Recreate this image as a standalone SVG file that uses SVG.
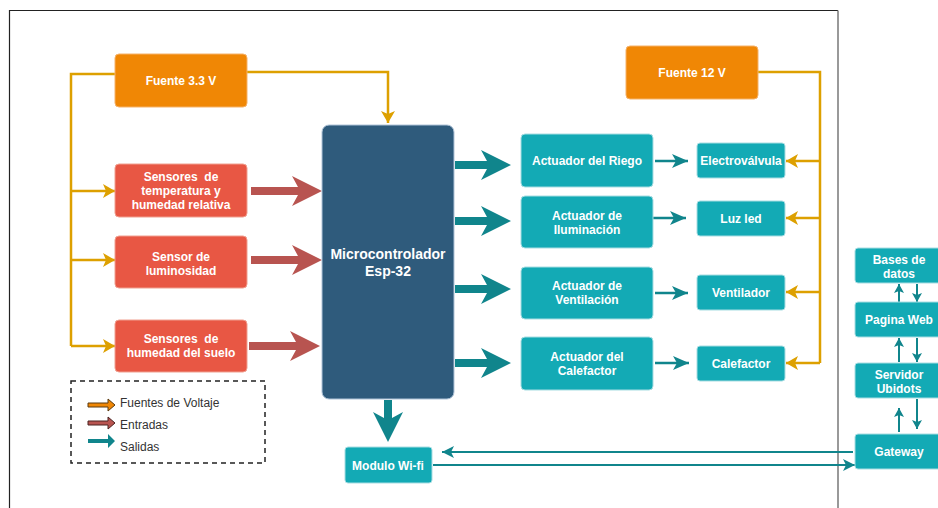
<svg xmlns="http://www.w3.org/2000/svg" width="938" height="508" viewBox="0 0 938 508">
<defs>
<style>
.t{font-family:"Liberation Sans",Arial,sans-serif;font-weight:bold;font-size:12px;fill:#fff;text-anchor:middle;dominant-baseline:central}
.lg{font-family:"Liberation Sans",Arial,sans-serif;font-size:12px;fill:#333;dominant-baseline:central}
.org{fill:#F08705;stroke:#F5B26B;stroke-width:1}
.red{fill:#E85744;stroke:#F0A090;stroke-width:1}
.tea{fill:#13AAB5;stroke:#A8DDE2;stroke-width:1}
.mcu{fill:#2F5B7C;stroke:#B0C4D8;stroke-width:1}
.yl{fill:none;stroke:#DDA000;stroke-width:2.5}
.tl{fill:none;stroke:#10858C;stroke-width:2.5}
.tl2{fill:none;stroke:#10858C;stroke-width:2}
.ra{fill:#B85450}
.ta{fill:#10858C}
</style>
<marker id="ay" markerUnits="userSpaceOnUse" markerWidth="12" markerHeight="14" refX="12" refY="7" orient="auto"><path d="M0,0 L12,7 L0,14 L3,7 z" fill="#DDA000"/></marker>
<marker id="at" markerUnits="userSpaceOnUse" markerWidth="16" markerHeight="14" refX="16" refY="7" orient="auto"><path d="M0,0 L16,7 L0,14 L4,7 z" fill="#10858C"/></marker>
<marker id="at2" markerUnits="userSpaceOnUse" markerWidth="12" markerHeight="12" refX="12" refY="6" orient="auto"><path d="M0,0 L12,6 L0,12 L3,6 z" fill="#10858C"/></marker>
<marker id="at3" markerUnits="userSpaceOnUse" markerWidth="9" markerHeight="10" refX="9" refY="5" orient="auto"><path d="M0,0 L9,5 L0,10 L2,5 z" fill="#10858C"/></marker>
</defs>
<rect x="0" y="0" width="938" height="508" fill="#fff"/>
<path d="M9.5,520 L9.5,10.5 L838,10.5" fill="none" stroke="#222" stroke-width="1.2"/>
<path d="M838,10.5 L838,520" fill="none" stroke="#777" stroke-width="1.5"/>

<g id="connectors">
<path class="yl" d="M115,74 L71,74 L71,346"/>
<path class="yl" d="M71,191 L115,191" marker-end="url(#ay)"/>
<path class="yl" d="M71,260 L115,260" marker-end="url(#ay)"/>
<path class="yl" d="M71,346 L115,346" marker-end="url(#ay)"/>
<path class="yl" d="M247,72 L388,72 L388,123" marker-end="url(#ay)"/>
<path class="yl" d="M758,72 L820,72 L820,363"/>
<path class="yl" d="M820,161 L786,161" marker-end="url(#ay)"/>
<path class="yl" d="M820,218 L786,218" marker-end="url(#ay)"/>
<path class="yl" d="M820,292 L786,292" marker-end="url(#ay)"/>
<path class="yl" d="M820,363 L786,363" marker-end="url(#ay)"/>
<polygon class="ra" points="251,187 298,187 292,176 322,191 292,206 298,195 251,195"/>
<polygon class="ra" points="251,256 298,256 292,245 322,260 292,275 298,264 251,264"/>
<polygon class="ra" points="249,342 296,342 290,331 320,346 290,361 296,350 249,350"/>
<polygon class="ta" points="455,161 487,161 481,150 511,165 481,180 487,169 455,169"/>
<polygon class="ta" points="455,217 487,217 481,206 511,221 481,236 487,225 455,225"/>
<polygon class="ta" points="455,285 487,285 481,274 511,289 481,304 487,293 455,293"/>
<polygon class="ta" points="455,359 487,359 481,348 511,363 481,378 487,367 455,367"/>
<polygon class="ta" points="384,400 384,418 373,412 388,442 403,412 392,418 392,400"/>
<path class="tl" d="M655,161 L688,161" marker-end="url(#at)"/>
<path class="tl" d="M653,218 L686,218" marker-end="url(#at)"/>
<path class="tl" d="M655,293 L688,293" marker-end="url(#at)"/>
<path class="tl" d="M655,363 L689,363" marker-end="url(#at)"/>
<path class="tl2" d="M853,452 L442,452" marker-end="url(#at2)"/>
<path class="tl2" d="M433,465 L855,465" marker-end="url(#at2)"/>
<path class="tl2" d="M899,302 L899,284" marker-end="url(#at3)"/>
<path class="tl2" d="M917,284 L917,302" marker-end="url(#at3)"/>
<path class="tl2" d="M899,362 L899,338" marker-end="url(#at3)"/>
<path class="tl2" d="M917,338 L917,362" marker-end="url(#at3)"/>
<path class="tl2" d="M899,432 L899,408" marker-end="url(#at3)"/>
<path class="tl2" d="M917,399 L917,429" marker-end="url(#at3)"/>
</g>

<g id="fuente33"><rect class="org" x="115" y="54" width="132" height="53" rx="4"/><text class="t" x="181" y="81">Fuente 3.3 V</text></g>
<g id="fuente12"><rect class="org" x="626" y="46" width="132" height="53" rx="4"/><text class="t" x="692" y="73">Fuente 12 V</text></g>
<g id="sensTemp"><rect class="red" x="115" y="164" width="132" height="53" rx="4"/><text class="t" x="181" y="177" xml:space="preserve">Sensores  de</text><text class="t" x="181" y="191">temperatura y</text><text class="t" x="181" y="205">humedad relativa</text></g>
<g id="sensLum"><rect class="red" x="115" y="236" width="132" height="52" rx="4"/><text class="t" x="181" y="257">Sensor de</text><text class="t" x="181" y="271">luminosidad</text></g>
<g id="sensSuelo"><rect class="red" x="115" y="320" width="132" height="52" rx="4"/><text class="t" x="181" y="339" xml:space="preserve">Sensores  de</text><text class="t" x="181" y="353">humedad del suelo</text></g>
<g id="mcu"><rect class="mcu" x="322" y="125" width="132" height="274" rx="7"/><text class="t" x="388" y="254" style="font-size:14px">Microcontrolador</text><text class="t" x="388" y="271" style="font-size:14px">Esp-32</text></g>
<g id="actRiego"><rect class="tea" x="521" y="134" width="132" height="53" rx="4"/><text class="t" x="587" y="161">Actuador del Riego</text></g>
<g id="actIlum"><rect class="tea" x="521" y="196" width="132" height="52" rx="4"/><text class="t" x="587" y="216">Actuador de</text><text class="t" x="587" y="230">Iluminación</text></g>
<g id="actVent"><rect class="tea" x="521" y="267" width="132" height="52" rx="4"/><text class="t" x="587" y="286">Actuador de</text><text class="t" x="587" y="300">Ventilación</text></g>
<g id="actCal"><rect class="tea" x="521" y="337" width="132" height="53" rx="4"/><text class="t" x="587" y="357">Actuador del</text><text class="t" x="587" y="371">Calefactor</text></g>
<g id="electro"><rect class="tea" x="697" y="143" width="88" height="35" rx="3"/><text class="t" x="741" y="161">Electroválvula</text></g>
<g id="luzled"><rect class="tea" x="697" y="201" width="88" height="35" rx="3"/><text class="t" x="741" y="219">Luz led</text></g>
<g id="ventilador"><rect class="tea" x="697" y="275" width="88" height="35" rx="3"/><text class="t" x="741" y="293">Ventilador</text></g>
<g id="calefactor"><rect class="tea" x="697" y="346" width="88" height="35" rx="3"/><text class="t" x="741" y="364">Calefactor</text></g>
<g id="wifi"><rect class="tea" x="345" y="447" width="87" height="36" rx="3"/><text class="t" x="388" y="466">Modulo Wi-fi</text></g>
<g id="bases"><rect class="tea" x="855" y="248" width="88" height="35" rx="3"/><text class="t" x="899" y="260">Bases de</text><text class="t" x="899" y="274">datos</text></g>
<g id="pagina"><rect class="tea" x="855" y="302" width="88" height="35" rx="3"/><text class="t" x="899" y="320">Pagina Web</text></g>
<g id="servidor"><rect class="tea" x="855" y="363" width="88" height="35" rx="3"/><text class="t" x="899" y="375">Servidor</text><text class="t" x="899" y="389">Ubidots</text></g>
<g id="gateway"><rect class="tea" x="855" y="434" width="88" height="35" rx="3"/><text class="t" x="899" y="452">Gateway</text></g>

<g id="legend">
<rect x="71" y="381" width="194" height="82" fill="none" stroke="#222" stroke-width="1.5" stroke-dasharray="5,4"/>
<polygon points="88,403 108,403 108,399 115,405 108,411 108,407 88,407" fill="#F08705" stroke="#5a3a10" stroke-width="1"/>
<polygon points="88,421 108,421 108,417 115,423 108,429 108,425 88,425" fill="#B85450" stroke="#4a2220" stroke-width="1"/>
<polygon points="88,439 108,439 108,434 115,441 108,448 108,443 88,443" fill="#10858C"/>
<text class="lg" x="120" y="403">Fuentes de Voltaje</text>
<text class="lg" x="120" y="425">Entradas</text>
<text class="lg" x="120" y="447">Salidas</text>
</g>
</svg>
